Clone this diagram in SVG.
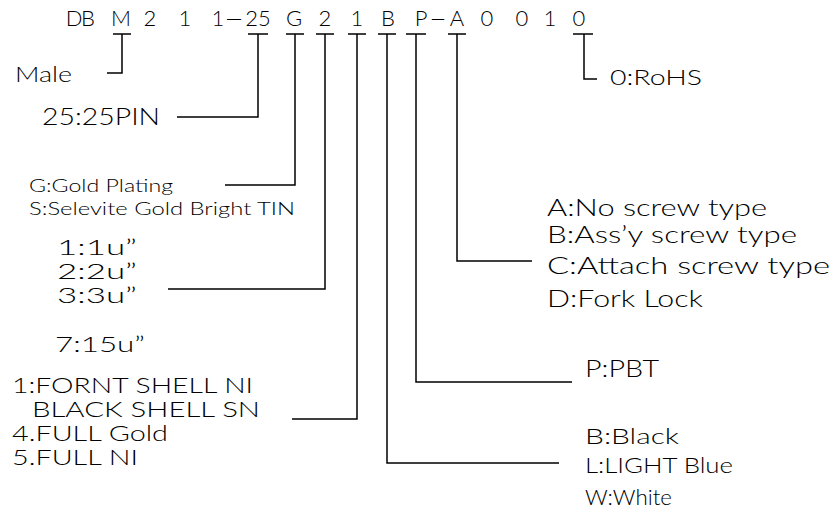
<svg xmlns="http://www.w3.org/2000/svg" width="832" height="516" viewBox="0 0 832 516">
<style>
text{font-family:"Lato","Liberation Sans","DejaVu Sans",sans-serif;font-weight:300;fill:#000}
.h{font-size:22px;text-anchor:middle}
.l{fill:none;stroke:#000;stroke-width:1.5}
</style>
<rect width="832" height="516" fill="#fff"/>
<g id="code">
<text class="h" x="74" y="26">D</text><text class="h" x="88" y="26">B</text>
<text class="h" x="121" y="26">M</text><text class="h" x="150" y="26">2</text>
<text class="h" x="185" y="26">1</text><text class="h" x="218" y="26">1</text>
<text class="h" x="234" y="26" textLength="17" lengthAdjust="spacingAndGlyphs">—</text><text class="h" x="258" y="26">25</text>
<text class="h" x="294" y="26">G</text><text class="h" x="325" y="26">2</text>
<text class="h" x="357" y="26">1</text><text class="h" x="388" y="26">B</text>
<text class="h" x="421" y="26">P</text><text class="h" x="438" y="26" textLength="15" lengthAdjust="spacingAndGlyphs">—</text>
<text class="h" x="457" y="26">A</text><text class="h" x="487" y="26">0</text>
<text class="h" x="522" y="26">0</text><text class="h" x="550" y="26">1</text>
<text class="h" x="579" y="26">0</text>
</g>
<g id="connectors" class="l">
<path d="M113,34H131M122,34V73H107"/>
<path d="M248,34H268M258,34V117H177"/>
<path d="M286,34H304M295,34V185H225"/>
<path d="M316,34H334M325,34V289H168"/>
<path d="M348,34H366M357,34V419H292"/>
<path d="M378,34H396M387,34V463H559"/>
<path d="M406,34H426M416,34V382H572"/>
<path d="M448,34H466M457,34V261H532"/>
<path d="M573,34H593M584,34V79H597"/>
</g>
<g id="male"><text x="15" y="82" font-size="21" textLength="57" lengthAdjust="spacingAndGlyphs">Male</text></g>
<g id="pin"><text x="42" y="125" font-size="23" textLength="118" lengthAdjust="spacingAndGlyphs">25:25PIN</text></g>
<g id="plating">
<text x="29" y="192" font-size="18" textLength="144" lengthAdjust="spacingAndGlyphs">G:Gold  Plating</text>
<text x="29" y="215" font-size="18" textLength="266" lengthAdjust="spacingAndGlyphs">S:Selevite  Gold  Bright  TIN</text>
</g>
<g id="thickness">
<text x="57" y="255" font-size="21" textLength="80" lengthAdjust="spacingAndGlyphs">1:1u”</text>
<text x="57" y="279" font-size="21" textLength="80" lengthAdjust="spacingAndGlyphs">2:2u”</text>
<text x="57" y="303" font-size="21" textLength="80" lengthAdjust="spacingAndGlyphs">3:3u”</text>
<text x="55" y="352" font-size="21" textLength="90" lengthAdjust="spacingAndGlyphs">7:15u”</text>
</g>
<g id="shell">
<text x="12" y="393" font-size="21" textLength="241" lengthAdjust="spacingAndGlyphs">1:FORNT  SHELL  NI</text>
<text x="32" y="417" font-size="21" textLength="228" lengthAdjust="spacingAndGlyphs">BLACK  SHELL  SN</text>
<text x="12" y="441" font-size="21" textLength="156" lengthAdjust="spacingAndGlyphs">4.FULL  Gold</text>
<text x="12" y="465" font-size="21" textLength="126" lengthAdjust="spacingAndGlyphs">5.FULL  NI</text>
</g>
<g id="screw">
<text x="547" y="216" font-size="23" textLength="220" lengthAdjust="spacingAndGlyphs">A:No  screw  type</text>
<text x="547" y="243" font-size="23" textLength="250" lengthAdjust="spacingAndGlyphs">B:Ass’y  screw  type</text>
<text x="547" y="274" font-size="23" textLength="283" lengthAdjust="spacingAndGlyphs">C:Attach  screw  type</text>
<text x="547" y="307" font-size="23" textLength="156" lengthAdjust="spacingAndGlyphs">D:Fork  Lock</text>
</g>
<g id="material"><text x="585" y="377" font-size="23" textLength="74" lengthAdjust="spacingAndGlyphs">P:PBT</text></g>
<g id="color">
<text x="585" y="444" font-size="22" textLength="94" lengthAdjust="spacingAndGlyphs">B:Black</text>
<text x="585" y="473" font-size="22" textLength="148" lengthAdjust="spacingAndGlyphs">L:LIGHT  Blue</text>
<text x="585" y="505" font-size="22" textLength="87" lengthAdjust="spacingAndGlyphs">W:White</text>
</g>
<g id="rohs"><text x="610" y="85" font-size="22" textLength="92" lengthAdjust="spacingAndGlyphs">0:RoHS</text></g>
</svg>
